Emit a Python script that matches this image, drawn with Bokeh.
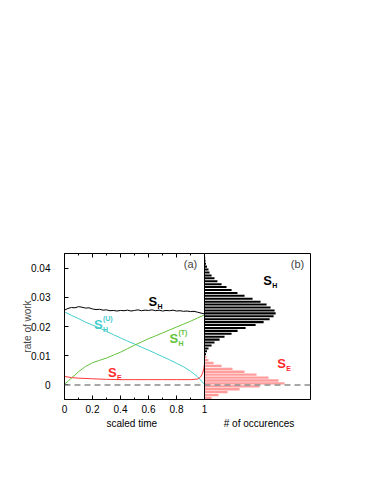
from bokeh.plotting import figure
from bokeh.models import Range1d, FixedTicker, LinearAxis, Span, Label, Title, CustomJSTickFormatter
from bokeh.embed import file_html
from bokeh.resources import INLINE

FONT = "Liberation Sans"

# ---------------- data ----------------
# (a) rate of work vs scaled time
sh_x = [0.000, 0.025, 0.050, 0.075, 0.100, 0.125, 0.150, 0.175, 0.200, 0.225,
        0.250, 0.275, 0.300, 0.325, 0.350, 0.375, 0.400, 0.425, 0.450, 0.475,
        0.500, 0.525, 0.550, 0.575, 0.600, 0.625, 0.650, 0.675, 0.700, 0.725,
        0.750, 0.775, 0.800, 0.825, 0.850, 0.875, 0.900, 0.925, 0.950, 0.975, 1.000]
sh_y = [0.0256, 0.0262, 0.0265, 0.0264, 0.0268, 0.0266, 0.0263, 0.0264, 0.0260, 0.0258,
        0.0259, 0.0256, 0.0257, 0.0254, 0.0255, 0.0253, 0.0255, 0.0254, 0.0256, 0.0253,
        0.0255, 0.0257, 0.0254, 0.0256, 0.0255, 0.0257, 0.0254, 0.0256, 0.0253, 0.0255,
        0.0254, 0.0256, 0.0253, 0.0254, 0.0252, 0.0253, 0.0251, 0.0252, 0.0249, 0.0246, 0.0243]

shu_x = [0.00, 0.05, 0.10, 0.15, 0.20, 0.25, 0.30, 0.35, 0.40, 0.45, 0.50,
         0.55, 0.60, 0.65, 0.70, 0.75, 0.80, 0.85, 0.90, 0.95, 1.00]
shu_y = [0.0250, 0.0238, 0.0227, 0.0215, 0.0205, 0.0195, 0.0183, 0.0172, 0.0161, 0.0150, 0.0140,
         0.0129, 0.0119, 0.0108, 0.0097, 0.0086, 0.0074, 0.0062, 0.0047, 0.0028, 0.0002]

sht_x = [0.000, 0.025, 0.050, 0.075, 0.100, 0.150, 0.200, 0.250, 0.300, 0.350, 0.400,
         0.450, 0.500, 0.550, 0.600, 0.650, 0.700, 0.750, 0.800, 0.850, 0.900, 0.950, 1.000]
sht_y = [0.0003, 0.0012, 0.0024, 0.0034, 0.0045, 0.0063, 0.0076, 0.0084, 0.0092, 0.0102, 0.0112,
         0.0124, 0.0136, 0.0147, 0.0158, 0.0168, 0.0178, 0.0188, 0.0198, 0.0208, 0.0218, 0.0229, 0.0240]

se_x = [0.00, 0.05, 0.10, 0.20, 0.30, 0.40, 0.50, 0.60, 0.70, 0.80, 0.90,
        0.95, 0.97, 0.985, 0.995, 1.00]
se_y = [0.0029, 0.0025, 0.0023, 0.0021, 0.0019, 0.0018, 0.0018, 0.0018, 0.0018, 0.0018, 0.0018,
        0.0020, 0.0026, 0.0038, 0.0055, 0.0072]

# (b) histograms (# of occurences per rate-of-work bin)
sh_bins = [0.0445, 0.0435, 0.0425, 0.0415, 0.0405, 0.0395, 0.0385, 0.0375, 0.0365, 0.0355,
           0.0345, 0.0335, 0.0325, 0.0315, 0.0305, 0.0295, 0.0285, 0.0275, 0.0265, 0.0255,
           0.0245, 0.0235, 0.0225, 0.0215, 0.0205, 0.0195, 0.0185, 0.0175, 0.0165, 0.0155,
           0.0145, 0.0135, 0.0125, 0.0115, 0.0105]
sh_counts = [4, 6, 9, 13, 21, 34, 43, 60, 85, 110,
             145, 187, 230, 280, 340, 408, 476, 527, 561, 595,
             604, 587, 553, 502, 434, 349, 281, 230, 170, 128,
             85, 60, 34, 21, 13]

se_bins = [0.0095, 0.0085, 0.0075, 0.0065, 0.0055, 0.0045, 0.0035, 0.0025, 0.0015, 0.0005,
           -0.0005, -0.0015, -0.0025, -0.0035, -0.0045]
se_counts = [17, 34, 77, 145, 238, 340, 442, 544, 629, 680,
             468, 298, 196, 119, 60]

x_ticks = [0, 0.2, 0.4, 0.6, 0.8, 1]
x_minor = [0.1, 0.3, 0.5, 0.7, 0.9]
x_labels = ["0", "0.2", "0.4", "0.6", "0.8", "1"]
y_ticks = [0, 0.01, 0.02, 0.03, 0.04]
y_labels = ["0", "0.01", "0.02", "0.03", "0.04"]

# ---------------- layout ----------------
LEFT_W = 140   # px of panel (a)
RIGHT_W = 106  # px of panel (b)
HMAX = 900

p = figure(frame_width=LEFT_W + RIGHT_W, frame_height=146,
           x_range=Range1d(0, 1 + RIGHT_W / LEFT_W), y_range=Range1d(-0.005, 0.045),
           output_backend="svg", toolbar_location=None,
           min_border_left=64, min_border_top=253, min_border_bottom=30, min_border_right=20)
p.extra_x_ranges = {"hist": Range1d(-HMAX * LEFT_W / RIGHT_W, HMAX)}
p.grid.visible = False
p.outline_line_color = "black"
p.outline_line_width = 1
p.background_fill_color = "white"
p.border_fill_color = "white"

# histograms
p.hbar(y=se_bins, height=0.0008, left=0, right=se_counts, x_range_name="hist",
       fill_color="#ff9c9c", line_color=None)
p.hbar(y=sh_bins, height=0.0007, left=0, right=sh_counts, x_range_name="hist",
       fill_color="black", line_color=None)

# curves
p.line(sh_x, sh_y, line_color="black", line_width=1)
p.line(shu_x, shu_y, line_color="#45cccc", line_width=1)
p.line(sht_x, sht_y, line_color="#62c23a", line_width=1)
p.line(se_x, se_y, line_color="#ff3a3a", line_width=1)

p.add_layout(Span(location=0, dimension="width", line_color="#8c8c8c",
                  line_dash="6 4", line_width=1.5))
p.add_layout(Span(location=1, dimension="height", line_color="black", line_width=1))

# axes
xa = p.xaxis[0]
xa.ticker = FixedTicker(ticks=x_ticks, minor_ticks=x_minor)
xa.major_label_overrides = dict(zip(x_ticks, x_labels))
ya = p.yaxis[0]
ya.ticker = FixedTicker(ticks=y_ticks)
ya.major_label_overrides = dict(zip(y_ticks, y_labels))
ya.axis_label = "rate of work"
for ax in (xa, ya):
    ax.major_tick_in = 4
    ax.major_tick_out = 0
    ax.minor_tick_in = 2
    ax.minor_tick_out = 0
    ax.axis_line_color = "black"
    ax.major_label_text_font = FONT
    ax.major_label_text_font_size = "10px"
    ax.major_label_text_color = "black"
    ax.axis_label_text_font = FONT
    ax.axis_label_text_font_size = "10px"
    ax.axis_label_text_font_style = "normal"
ya.minor_tick_in = 0
xa.major_label_standoff = 5
ya.major_label_standoff = 14
ya.axis_label_standoff = -5

top = LinearAxis(ticker=FixedTicker(ticks=x_ticks, minor_ticks=x_minor),
                 formatter=CustomJSTickFormatter(code="return ''"),
                 major_tick_in=4, major_tick_out=0, minor_tick_in=2, minor_tick_out=0,
                 major_label_standoff=0, axis_line_color=None)
p.add_layout(top, "above")

# axis titles under each panel (one line below the frame)
NB = "\u00a0"
p.add_layout(Title(text="scaled time" + NB * 24 + "# of occurences", align="left", offset=42,
                   standoff=0, text_font=FONT, text_font_size="10px",
                   text_font_style="normal", text_color="black"), "below")

# panel tags
p.add_layout(Label(x=0.9, y=0.0415, text="(a)", text_align="center", text_baseline="middle",
                   text_font=FONT, text_font_size="11px"))
p.add_layout(Label(x=1.664, y=0.0415, text="(b)", text_align="center", text_baseline="middle",
                   text_font=FONT, text_font_size="11px"))


def series_label(x, y, color, sub, sup=None):
    p.add_layout(Label(x=x, y=y, text="S", text_color=color, text_font=FONT,
                       text_font_size="13px", text_font_style="bold",
                       text_align="left", text_baseline="middle"))
    p.add_layout(Label(x=x, y=y, x_offset=9, y_offset=-5, text=sub, text_color=color,
                       text_font=FONT, text_font_size="7px", text_font_style="bold",
                       text_align="left", text_baseline="middle"))
    if sup:
        p.add_layout(Label(x=x, y=y, x_offset=9, y_offset=6, text=sup, text_color=color,
                           text_font=FONT, text_font_size="7px", text_font_style="bold",
                           text_align="left", text_baseline="middle"))


series_label(0.60, 0.0285, "black", "H")
series_label(0.21, 0.0206, "#45cccc", "H", "(U)")
series_label(0.75, 0.0160, "#62c23a", "H", "(T)")
series_label(0.31, 0.0042, "#ff2a2a", "E")
series_label(1.42, 0.0359, "black", "H")
series_label(1.52, 0.0073, "#ff2a2a", "E")

open("out.html", "w").write(file_html(p, INLINE))
